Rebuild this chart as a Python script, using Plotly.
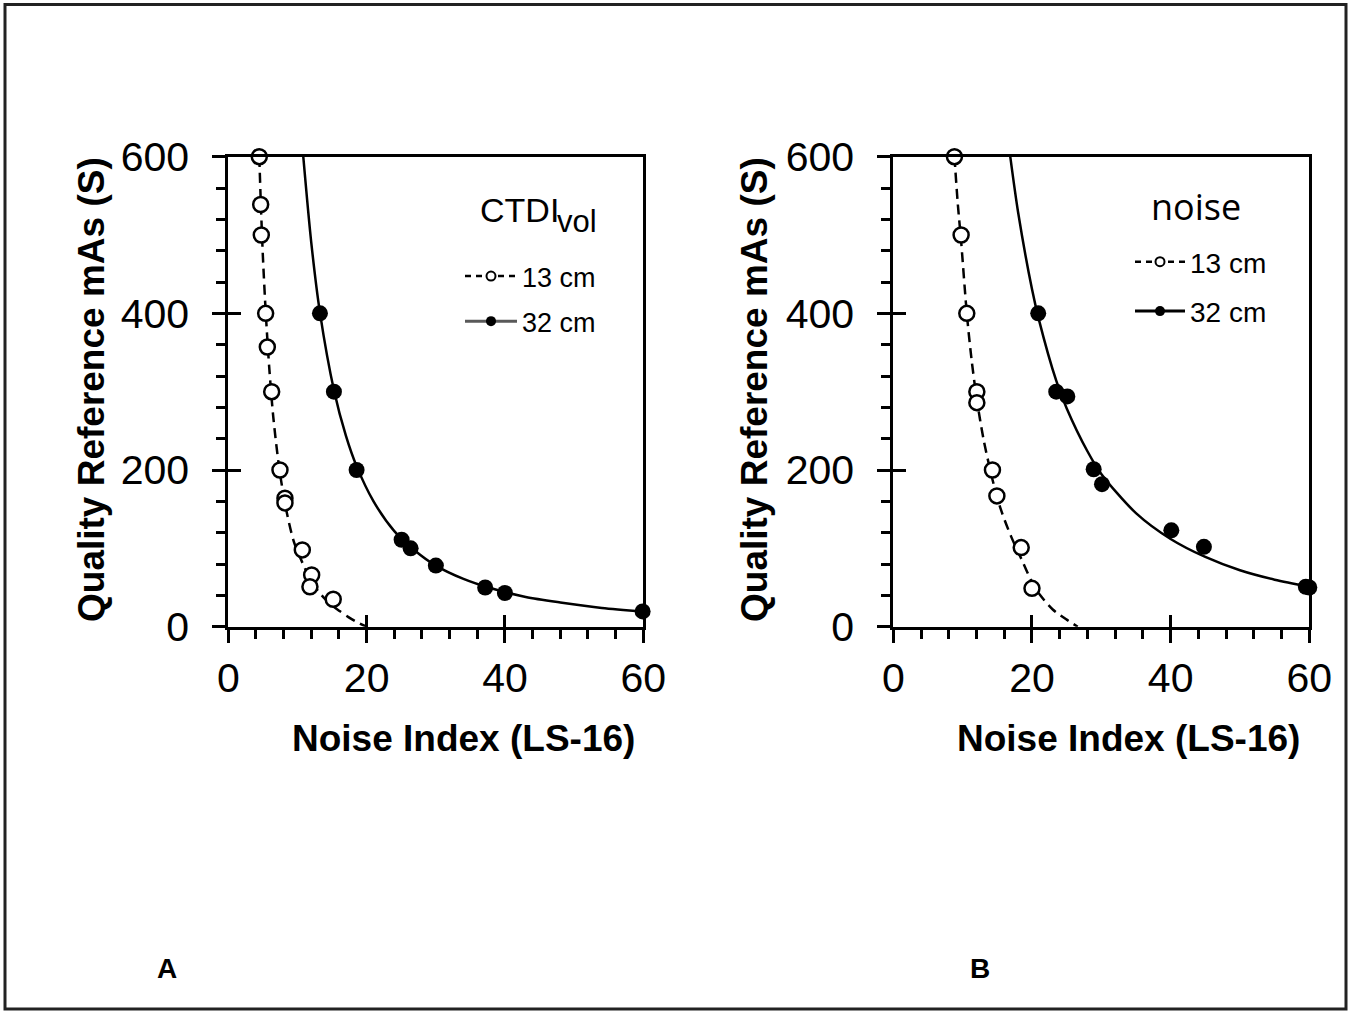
import plotly.graph_objects as go

W, H = 1351, 1011
FONT = "Arial, 'Liberation Sans', sans-serif"

# ---------------- data: panel A (CTDIvol) ----------------
a13_x = [4.48, 4.68, 4.77, 5.40, 5.64, 6.27, 7.47, 8.19, 8.19, 10.7, 12.05, 11.8, 15.17]
a13_y = [600, 539, 500, 400, 357, 300, 200, 164, 158, 98, 66, 51, 35]
a32_x = [13.25, 15.27, 18.55, 25.06, 26.36, 30.01, 37.14, 39.99, 59.9]
a32_y = [400, 300, 200, 111, 100, 78, 50, 43, 19.5]
# fitted curves
a13_fit_x = [4.48, 4.7, 5.0, 5.4, 5.9, 6.5, 7.4, 8.4, 9.5, 10.8, 12.2, 13.7, 15.0, 16.1, 17.6, 19.0, 20.0]
a13_fit_y = [600, 541, 473, 403, 333, 268, 200, 148, 108, 80, 55, 38, 27, 20, 11, 4, 0]
a32_fit_x = [10.84, 12, 13.25, 15.3, 17, 18.55, 21, 24, 27, 30, 34, 38, 43, 48, 54, 60]
a32_fit_y = [600, 490, 401, 301, 244, 205, 160, 122, 97, 78, 61, 49, 38, 31, 24, 19.6]

# ---------------- data: panel B (noise) ----------------
b13_x = [8.82, 9.78, 10.6, 12.05, 12.05, 14.3, 14.94, 18.45, 20.0]
b13_y = [600, 500, 400, 300, 286, 200, 167, 101, 49]
b32_x = [20.9, 23.5, 25.1, 28.9, 30.1, 40.1, 44.8, 59.5, 60.0]
b32_y = [400, 300, 294, 201, 182, 123, 102, 51, 50]
b13_fit_x = [8.82, 9.3, 9.8, 10.6, 11.3, 12.05, 13.0, 14.3, 15.5, 17.0, 18.5, 20.0, 21.2, 23.0, 25.0, 26.6]
b13_fit_y = [600, 540, 490, 400, 340, 290, 240, 188, 150, 115, 86, 57, 40, 22, 9, 0]
b32_fit_x = [16.87, 18, 20, 21, 23.5, 25, 28, 30, 35, 40, 45, 50, 55, 60]
b32_fit_y = [600, 529, 431, 392, 314, 279, 224, 195, 145, 112, 89, 72, 60, 51]

x_ticks = [0, 20, 40, 60]
y_ticks = [0, 200, 400, 600]
legend_names = ["13 cm", "32 cm"]

fig = go.Figure()

open_marker = dict(symbol="circle", color="white", size=15, line=dict(color="black", width=2.5))
fill_marker = dict(symbol="circle", color="black", size=16, line=dict(width=0))
dash = "10px,6px"


def add_panel(xa, ya, f13x, f13y, d13x, d13y, f32x, f32y, d32x, d32y):
    fig.add_trace(go.Scatter(x=f13x, y=f13y, mode="lines", line=dict(color="black", width=2.5, dash=dash, shape="spline", smoothing=0.8),
                             xaxis=xa, yaxis=ya, showlegend=False, hoverinfo="skip"))
    fig.add_trace(go.Scatter(x=f32x, y=f32y, mode="lines", line=dict(color="black", width=2.5, shape="spline", smoothing=0.8),
                             xaxis=xa, yaxis=ya, showlegend=False, hoverinfo="skip"))
    fig.add_trace(go.Scatter(x=d13x, y=d13y, mode="markers", marker=open_marker, cliponaxis=False,
                             xaxis=xa, yaxis=ya, showlegend=False))
    fig.add_trace(go.Scatter(x=d32x, y=d32y, mode="markers", marker=fill_marker, cliponaxis=False,
                             xaxis=xa, yaxis=ya, showlegend=False))


add_panel("x", "y", a13_fit_x, a13_fit_y, a13_x, a13_y, a32_fit_x, a32_fit_y, a32_x, a32_y)
add_panel("x2", "y2", b13_fit_x, b13_fit_y, b13_x, b13_y, b32_fit_x, b32_fit_y, b32_x, b32_y)

# legend entries
for xa, ya, lg, col32 in [("x3", "y3", "legend", "#595959"), ("x4", "y4", "legend2", "black")]:
    fig.add_trace(go.Scatter(x=[None], y=[None], mode="lines+markers", name=legend_names[0],
                             line=dict(color="black", width=2.5, dash="6px,5px"),
                             marker=dict(symbol="circle", color="white", size=9, line=dict(color="black", width=2)),
                             xaxis=xa, yaxis=ya, legend=lg, legendgroup=lg + "a"))
    fig.add_trace(go.Scatter(x=[None], y=[None], mode="lines+markers", name=legend_names[1],
                             line=dict(color=col32, width=3),
                             marker=dict(symbol="circle", color="black", size=10),
                             xaxis=xa, yaxis=ya, legend=lg, legendgroup=lg + "b"))

dom_xA = [228.3 / W, 643.3 / W]
dom_xB = [893.3 / W, 1309.3 / W]
dom_y = [1 - 626.7 / H, 1 - 156.7 / H]

tickfont = dict(family=FONT, size=41, color="black")


def main_x(domain, anchor):
    return dict(domain=domain, anchor=anchor, range=[0, 60], tickvals=x_ticks, ticks="outside", ticklen=13,
                tickwidth=3, tickcolor="black", showline=True, linewidth=3, linecolor="black", mirror=True,
                showgrid=False, zeroline=False, tickfont=tickfont, ticklabelstandoff=0, automargin=False,
                minor=dict(dtick=4, ticks="outside", ticklen=9, tickwidth=3, tickcolor="black", showgrid=False))


def main_y(domain, anchor):
    return dict(domain=domain, anchor=anchor, range=[0, 600], tickvals=y_ticks, ticks="outside", ticklen=13,
                tickwidth=3, tickcolor="black", showline=True, linewidth=3, linecolor="black", mirror=True,
                showgrid=False, zeroline=False, tickfont=tickfont, ticklabelstandoff=15, automargin=False,
                minor=dict(dtick=40, ticks="outside", ticklen=9, tickwidth=3, tickcolor="black", showgrid=False))


def inner_x(over, anchor):
    return dict(overlaying=over, anchor=anchor, range=[0, 60], tickvals=x_ticks, ticks="inside", ticklen=12,
                tickwidth=3, tickcolor="black", showticklabels=False, showline=False, showgrid=False,
                zeroline=False, automargin=False)


def inner_y(over, anchor):
    return dict(overlaying=over, anchor=anchor, range=[0, 600], tickvals=y_ticks, ticks="inside", ticklen=13,
                tickwidth=3, tickcolor="black", showticklabels=False, showline=False, showgrid=False,
                zeroline=False, automargin=False)


ann = []
title_font = dict(family=FONT, size=37, color="black")
for cx in [91, 754]:
    ann.append(dict(text="<b>Quality Reference mAs (S)</b>", x=cx / W, y=1 - 390 / H, xref="paper", yref="paper",
                    textangle=-90, showarrow=False, font=title_font, xanchor="center", yanchor="middle"))
for cx in [463, 1128]:
    ann.append(dict(text="<b>Noise Index (LS-16)</b>", x=cx / W, y=1 - 738 / H, xref="paper", yref="paper",
                    showarrow=False, font=title_font, xanchor="center", yanchor="middle"))
for txt, cx in [("A", 167), ("B", 980)]:
    ann.append(dict(text="<b>" + txt + "</b>", x=cx / W, y=1 - 968 / H, xref="paper", yref="paper",
                    showarrow=False, font=dict(family=FONT, size=28, color="black"), xanchor="center", yanchor="middle"))
ann.append(dict(text="CTDI", x=478 / W, y=1 - 210 / H, xref="paper", yref="paper", showarrow=False,
                font=dict(family=FONT, size=34, color="black"), xanchor="left", yanchor="middle"))
ann.append(dict(text="vol", x=555 / W, y=1 - 221 / H, xref="paper", yref="paper", showarrow=False,
                font=dict(family=FONT, size=31, color="black"), xanchor="left", yanchor="middle"))
ann.append(dict(text="noise", x=1196 / W, y=1 - 207 / H, xref="paper", yref="paper", showarrow=False,
                font=dict(family="'Open Sans', sans-serif", size=36, color="black"), xanchor="center", yanchor="middle"))

fig.update_layout(
    width=W, height=H, margin=dict(l=0, r=0, t=0, b=0, pad=0, autoexpand=False),
    paper_bgcolor="white", plot_bgcolor="white",
    xaxis=main_x(dom_xA, "y"), yaxis=main_y(dom_y, "x"),
    xaxis2=main_x(dom_xB, "y2"), yaxis2=main_y(dom_y, "x2"),
    xaxis3=inner_x("x", "y3"), yaxis3=inner_y("y", "x3"),
    xaxis4=inner_x("x2", "y4"), yaxis4=inner_y("y2", "x4"),
    legend=dict(x=460 / W, y=1 - 252 / H, xanchor="left", yanchor="top", bgcolor="rgba(0,0,0,0)",
                font=dict(family=FONT, size=27, color="black"), traceorder="grouped", tracegroupgap=7,
                itemwidth=52),
    legend2=dict(x=1130 / W, y=1 - 237 / H, xanchor="left", yanchor="top", bgcolor="rgba(0,0,0,0)",
                 font=dict(family=FONT, size=28, color="black"), traceorder="grouped", tracegroupgap=10,
                 itemwidth=50),
    annotations=ann,
    shapes=[dict(type="rect", xref="paper", yref="paper", x0=5 / W, x1=1346 / W, y0=1 - 1009 / H, y1=1 - 4.5 / H,
                 line=dict(color="#222222", width=3))],
    showlegend=True,
)

post = ("document.documentElement.style.margin='0';document.documentElement.style.padding='0';"
        "document.body.style.margin='0';document.body.style.padding='0';"
        "document.documentElement.style.overflow='hidden';document.body.style.overflow='hidden';")
fig.write_html("out.html", post_script=post, config={"displayModeBar": False})
